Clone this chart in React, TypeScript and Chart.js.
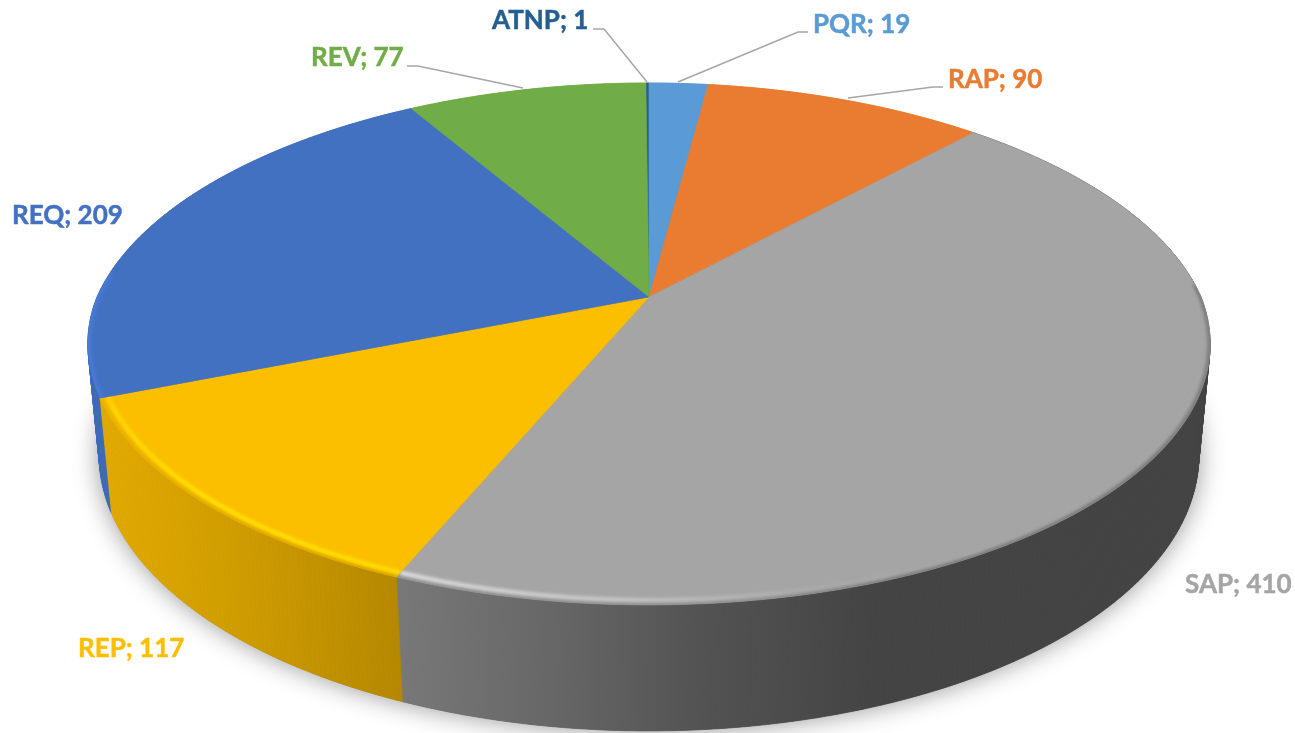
import React, { useEffect, useRef } from "react";
import { Chart, registerables } from "chart.js";

Chart.register(...registerables);

const categories = ["ATNP", "PQR", "RAP", "SAP", "REP", "REQ", "REV"];
const values = [1, 19, 90, 410, 117, 209, 77];
const colors = ["#255E91", "#5B9BD5", "#E97C30", "#A5A5A5", "#FCBF00", "#4371C2", "#70AD47"];

const labelLayout = [
  { x: 492, y: 29, line: [[593, 29], [604, 29], [647, 82]] },
  { x: 813, y: 33, line: [[808, 32], [798, 32], [678, 82]] },
  { x: 948, y: 88, line: [[943, 87], [933, 87], [848, 98]] },
  { x: 1185, y: 593, line: [] },
  { x: 78, y: 657, line: [] },
  { x: 12, y: 224, line: [] },
  { x: 311, y: 66, line: [[407, 66], [418, 66], [523, 88]] },
];

const wallStops: [number, string][][] = [
  [[0, "#255E91"]],
  [[0, "#5B9BD5"]],
  [[0, "#E97C30"]],
  [[400, "#787878"], [550, "#676767"], [700, "#535353"], [870, "#444444"], [1200, "#434343"]],
  [[100, "#E3AC00"], [250, "#CE9B00"], [400, "#B58800"]],
  [[0, "#3D6BB8"]],
  [[0, "#70AD47"]],
];
// soft edge between the top face and the wall
const edgeStops: [number, string][][] = [
  [],
  [],
  [],
  [[400, "#8C8C8C"], [760, "#8A8A8A"], [900, "#747474"], [1210, "#747474"]],
  [[100, "#E5AE00"], [400, "#D09C00"]],
  [[0, "#4A7FDC"]],
  [],
];
// bright highlight just inside the front rim
const rimStops: [number, string][][] = [
  [],
  [],
  [],
  [[400, "#DADADA"], [600, "#C6C6C6"], [800, "#ABABAB"], [950, "#A5A5A5"]],
  [[100, "#FFD200"], [200, "#FFE000"], [400, "#FFDD00"]],
  [],
  [],
];

// projection of the unit pie disc onto the page (a tilted, perspective view)
const VIEW = { cx: 649, cy: 297, a: 552, b: 252.5, k: 0.18, depth: 112, lift: 0.02, back: 0.02 };

function project(t: number, r: number, low: boolean): [number, number] {
  const u = Math.cos(t) * r;
  const v = Math.sin(t) * r;
  const w = 1 - VIEW.k * v + (low ? VIEW.lift : 0);
  const narrow = 1 - VIEW.back * Math.max(-v, 0);
  return [VIEW.cx + (VIEW.a * u * narrow) / w, VIEW.cy + (VIEW.b * v + (low ? VIEW.depth : 0)) / w];
}

function arcPoints(t0: number, t1: number, r: number, low: boolean) {
  const pts: [number, number][] = [];
  const n = Math.max(2, Math.ceil(Math.abs(t1 - t0) / 0.01));
  for (let i = 0; i <= n; i++) pts.push(project(t0 + ((t1 - t0) * i) / n, r, low));
  return pts;
}

function tracePoly(ctx: CanvasRenderingContext2D, pts: [number, number][]) {
  pts.forEach(([x, y], i) => (i ? ctx.lineTo(x, y) : ctx.moveTo(x, y)));
}

function wedge(arc: any): [number, number][] {
  return [[VIEW.cx, VIEW.cy], ...arcPoints(arc.startAngle, arc.endAngle, 1, false)];
}

function hGrad(ctx: CanvasRenderingContext2D, stops: [number, string][]) {
  if (stops.length === 1) return stops[0][1];
  const x0 = stops[0][0];
  const x1 = stops[stops.length - 1][0];
  const g = ctx.createLinearGradient(x0, 0, x1, 0);
  stops.forEach(([x, c]) => g.addColorStop((x - x0) / (x1 - x0), c));
  return g;
}

function wallQuads(ctx: CanvasRenderingContext2D, arc: any, fill: any) {
  const top = arcPoints(arc.startAngle, arc.endAngle, 1, false);
  const low = arcPoints(arc.startAngle, arc.endAngle, 1, true);
  ctx.fillStyle = fill;
  ctx.strokeStyle = fill;
  ctx.lineWidth = 0.7;
  for (let j = 0; j + 1 < top.length; j++) {
    ctx.beginPath();
    tracePoly(ctx, [top[j], top[j + 1], low[j + 1], low[j]]);
    ctx.closePath();
    ctx.fill();
    ctx.stroke();
  }
}

const pie3d = {
  id: "pie3d",
  beforeDatasetDraw(chart: any) {
    const ctx: CanvasRenderingContext2D = chart.ctx;
    const arcs = chart.getDatasetMeta(0).data;

    // soft cast shadow
    ctx.save();
    ctx.shadowColor = "rgba(0,0,0,0.42)";
    ctx.shadowBlur = 26;
    ctx.fillStyle = "#666";
    ctx.beginPath();
    tracePoly(ctx, arcPoints(0, Math.PI * 2, 1, true));
    ctx.closePath();
    ctx.fill();
    ctx.restore();

    // walls, back ones first
    arcs.forEach((arc: any, i: number) => {
      if (wallStops[i].length > 1 || i === 5) return;
      wallQuads(ctx, arc, hGrad(ctx, wallStops[i]));
    });
    [5, 3, 4].forEach((i) => wallQuads(ctx, arcs[i], hGrad(ctx, wallStops[i])));

    // top faces
    arcs.forEach((arc: any, i: number) => {
      ctx.beginPath();
      tracePoly(ctx, wedge(arc));
      ctx.closePath();
      ctx.fillStyle = colors[i];
      ctx.strokeStyle = colors[i];
      ctx.lineWidth = 0.6;
      ctx.fill();
      ctx.stroke();
    });

    // bevel along the front rim
    [5, 3, 4].forEach((i) => {
      const arc = arcs[i];
      const t0 = Math.max(arc.startAngle, -0.05);
      const t1 = Math.min(arc.endAngle, Math.PI + 0.1);
      if (t1 <= t0) return;
      ctx.save();
      ctx.beginPath();
      tracePoly(ctx, wedge(arc));
      ctx.closePath();
      ctx.clip();
      ctx.filter = "blur(2px)";
      ctx.beginPath();
      tracePoly(ctx, arcPoints(t0, t1, 1, false));
      ctx.strokeStyle = hGrad(ctx, edgeStops[i]);
      ctx.lineWidth = 5;
      ctx.stroke();
      if (rimStops[i].length) {
        ctx.filter = "blur(1.6px)";
        ctx.beginPath();
        tracePoly(ctx, arcPoints(t0, t1, 0.987, false));
        ctx.strokeStyle = hGrad(ctx, rimStops[i]);
        ctx.lineWidth = 4.5;
        ctx.stroke();
      }
      ctx.restore();
    });

    return false;
  },
  afterDatasetsDraw(chart: any) {
    const ctx: CanvasRenderingContext2D = chart.ctx;
    ctx.save();
    ctx.font = "700 26px Lato";
    ctx.textBaseline = "alphabetic";
    ctx.textAlign = "left";
    categories.forEach((c, i) => {
      const l = labelLayout[i];
      if (l.line.length) {
        ctx.beginPath();
        tracePoly(ctx, l.line as [number, number][]);
        ctx.lineWidth = 1.5;
        ctx.strokeStyle = "#A6A6A6";
        ctx.stroke();
      }
      const text = `${c}; ${values[i]}`;
      ctx.fillStyle = colors[i];
      ctx.strokeStyle = colors[i];
      ctx.lineWidth = 0.5;
      ctx.fillText(text, l.x, l.y);
      ctx.strokeText(text, l.x, l.y);
    });
    ctx.restore();
  },
};

export default function App() {
  const ref = useRef<HTMLCanvasElement>(null);
  useEffect(() => {
    document.body.style.margin = "0";
    const chart = new Chart(ref.current!, {
      type: "pie",
      data: {
        labels: categories,
        datasets: [{ data: values, backgroundColor: colors, borderWidth: 0 }],
      },
      options: {
        responsive: false,
        animation: false,
        rotation: (-360 * values[0]) / values.reduce((a, b) => a + b, 0),
        plugins: { legend: { display: false }, tooltip: { enabled: false } },
      },
      plugins: [pie3d as any],
    });
    return () => chart.destroy();
  }, []);
  return <canvas ref={ref} width={1295} height={733} style={{ display: "block" }} />;
}
